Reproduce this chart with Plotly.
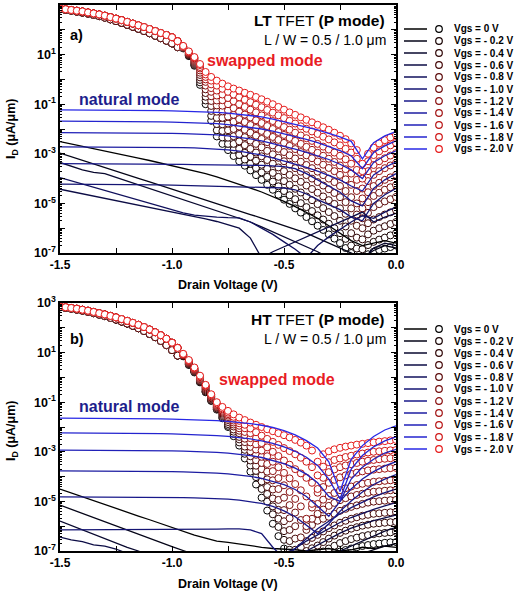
import plotly.graph_objects as go

# ---------------- data (log10 of I_D in uA/um) ----------------
# drain-voltage sweep used for the swapped-mode (marker) curves
V_M = [-1.500, -1.475, -1.450, -1.425, -1.400, -1.375, -1.350, -1.325, -1.300, -1.275,
       -1.250, -1.225, -1.200, -1.175, -1.150, -1.125, -1.100, -1.075, -1.050, -1.025,
       -1.000, -0.975, -0.950, -0.925, -0.900, -0.875, -0.850, -0.825, -0.800, -0.775,
       -0.750, -0.725, -0.700, -0.675, -0.650, -0.625, -0.600, -0.575, -0.550, -0.525,
       -0.500, -0.475, -0.450, -0.425, -0.400, -0.375, -0.350, -0.325, -0.300, -0.275,
       -0.250, -0.225, -0.200, -0.175, -0.150, -0.125, -0.100, -0.075, -0.050, -0.025, 0.000]
# drain-voltage points used for the natural-mode (line) curves
V_L = [-1.50, -1.45, -1.40, -1.35, -1.30, -1.25, -1.20, -1.15, -1.10, -1.05, -1.00,
       -0.95, -0.90, -0.85, -0.80, -0.75, -0.70, -0.65, -0.60, -0.55, -0.50,
       -0.45, -0.40, -0.35, -0.30, -0.25, -0.20, -0.15, -0.10, -0.05, 0.00]

VGS_LABELS = ["Vgs = 0 V", "Vgs = - 0.2 V", "Vgs = - 0.4 V", "Vgs = - 0.6 V",
              "Vgs = - 0.8 V", "Vgs = - 1.0 V", "Vgs = - 1.2 V", "Vgs = - 1.4 V",
              "Vgs = - 1.6 V", "Vgs = - 1.8 V", "Vgs = - 2.0 V"]

X_TICKS = [-1.5, -1.25, -1.0, -0.75, -0.5, -0.25, 0.0]
X_TICKTEXT = ["-1.5", "", "-1.0", "", "-0.5", "", "0.0"]
Y_EXP = [-7, -6, -5, -4, -3, -2, -1, 0, 1, 2, 3]

# ---- panel a (LT) swapped mode: high-current branch (V=-1.5..-0.975)
ENV_A = [2.85, 2.83, 2.80, 2.77, 2.74, 2.70, 2.66, 2.62, 2.57, 2.51, 2.45, 2.39,
         2.32, 2.25, 2.18, 2.11, 2.03, 1.95, 1.87, 1.79, 1.70, 1.54]
# same branch as seen for the low-|Vgs| curves (0 .. -0.8 V)
ENV_A_LOW = [2.83, 2.80, 2.77, 2.73, 2.69, 2.65, 2.60, 2.55, 2.49, 2.42, 2.35, 2.28,
             2.20, 2.12, 2.04, 1.95, 1.86, 1.76, 1.66, 1.56, 1.45, 1.30]
# one tail per Vgs (V=-0.95..0.00), Vgs = 0 V first
SWAP_A_TAILS = [
    [1.25, 0.94, 0.55, -0.22, -1.00, -1.67, -2.30, -2.60, -2.85, -3.09, -3.30, -3.48, -3.67, -3.86, -4.05, -4.25, -4.45, -4.65, -4.85, -5.02, -5.20, -5.37, -5.55, -5.72, -5.90, -6.07, -6.25, -6.42, -6.60, -6.80, -7.00, -7.15, -7.20, -7.05, -6.95, -6.88, -6.82, -6.76, -6.70],
    [1.26, 0.96, 0.58, -0.12, -0.85, -1.47, -2.05, -2.34, -2.60, -2.84, -3.05, -3.23, -3.40, -3.57, -3.75, -3.93, -4.12, -4.31, -4.50, -4.67, -4.83, -4.99, -5.15, -5.31, -5.48, -5.65, -5.82, -6.00, -6.20, -6.43, -6.70, -6.82, -6.85, -6.68, -6.55, -6.46, -6.38, -6.29, -6.20],
    [1.27, 0.98, 0.62, -0.02, -0.70, -1.27, -1.80, -2.08, -2.35, -2.60, -2.80, -2.96, -3.12, -3.28, -3.44, -3.60, -3.77, -3.93, -4.10, -4.25, -4.41, -4.56, -4.72, -4.87, -5.03, -5.19, -5.35, -5.51, -5.70, -5.93, -6.20, -6.38, -6.45, -6.25, -6.10, -6.00, -5.92, -5.83, -5.75],
    [1.28, 1.00, 0.66, 0.08, -0.55, -1.07, -1.55, -1.81, -2.05, -2.29, -2.50, -2.65, -2.80, -2.95, -3.10, -3.25, -3.40, -3.55, -3.70, -3.85, -3.99, -4.13, -4.28, -4.42, -4.57, -4.72, -4.87, -5.02, -5.20, -5.42, -5.70, -5.90, -6.00, -5.80, -5.65, -5.55, -5.45, -5.36, -5.27],
    [1.29, 1.02, 0.70, 0.18, -0.40, -0.87, -1.30, -1.55, -1.78, -2.00, -2.20, -2.33, -2.47, -2.60, -2.74, -2.88, -3.02, -3.16, -3.30, -3.44, -3.58, -3.72, -3.86, -4.00, -4.14, -4.28, -4.43, -4.58, -4.75, -4.95, -5.20, -5.45, -5.60, -5.38, -5.15, -5.03, -4.92, -4.83, -4.74],
    [1.30, 1.04, 0.74, 0.27, -0.25, -0.68, -1.05, -1.29, -1.50, -1.71, -1.90, -2.03, -2.15, -2.27, -2.40, -2.53, -2.66, -2.80, -2.93, -3.06, -3.19, -3.32, -3.45, -3.58, -3.72, -3.86, -4.00, -4.14, -4.30, -4.50, -4.75, -5.00, -5.20, -4.95, -4.70, -4.57, -4.45, -4.35, -4.26],
    [1.31, 1.06, 0.78, 0.36, -0.10, -0.50, -0.85, -1.06, -1.25, -1.43, -1.60, -1.72, -1.84, -1.96, -2.08, -2.20, -2.32, -2.44, -2.56, -2.68, -2.81, -2.93, -3.06, -3.18, -3.31, -3.44, -3.57, -3.70, -3.85, -4.03, -4.25, -4.50, -4.80, -4.55, -4.30, -4.17, -4.05, -3.95, -3.85],
    [1.32, 1.08, 0.82, 0.44, 0.00, -0.35, -0.65, -0.84, -1.00, -1.16, -1.30, -1.42, -1.53, -1.65, -1.76, -1.88, -2.00, -2.12, -2.24, -2.36, -2.48, -2.60, -2.72, -2.84, -2.96, -3.08, -3.20, -3.33, -3.47, -3.62, -3.80, -4.05, -4.40, -4.10, -3.85, -3.70, -3.58, -3.47, -3.37],
    [1.33, 1.10, 0.85, 0.50, 0.10, -0.20, -0.45, -0.61, -0.75, -0.88, -1.00, -1.11, -1.22, -1.33, -1.45, -1.56, -1.68, -1.80, -1.92, -2.03, -2.15, -2.26, -2.37, -2.48, -2.60, -2.71, -2.83, -2.95, -3.08, -3.22, -3.40, -3.65, -4.00, -3.70, -3.45, -3.30, -3.18, -3.07, -2.97],
    [1.34, 1.11, 0.88, 0.58, 0.20, -0.05, -0.25, -0.38, -0.50, -0.61, -0.72, -0.82, -0.92, -1.02, -1.12, -1.23, -1.34, -1.45, -1.56, -1.67, -1.78, -1.89, -1.99, -2.10, -2.20, -2.31, -2.42, -2.54, -2.66, -2.80, -2.95, -3.20, -3.70, -3.30, -3.05, -2.90, -2.78, -2.66, -2.56],
    [1.35, 1.13, 0.90, 0.62, 0.30, 0.10, -0.05, -0.17, -0.28, -0.37, -0.45, -0.54, -0.62, -0.71, -0.80, -0.90, -1.00, -1.11, -1.22, -1.33, -1.43, -1.53, -1.63, -1.73, -1.83, -1.93, -2.03, -2.15, -2.27, -2.41, -2.58, -2.85, -3.40, -3.00, -2.75, -2.58, -2.45, -2.34, -2.24],
]
# ---- panel a natural mode (lines), Vgs = 0 V first
NAT_A = [
    [-2.51, -2.60, -2.70, -2.79, -2.88, -2.98, -3.07, -3.17, -3.27, -3.37, -3.47, -3.57, -3.68, -3.80, -3.93, -4.07, -4.22, -4.38, -4.54, -4.72, -4.92, -5.13, -5.35, -5.60, -5.90, -6.20, -6.50, -6.70, -6.60, -6.50, -6.60],
    [-2.97, -3.12, -3.26, -3.41, -3.55, -3.70, -3.84, -3.99, -4.13, -4.28, -4.42, -4.57, -4.71, -4.86, -5.00, -5.15, -5.30, -5.45, -5.59, -5.75, -5.90, -6.05, -6.20, -6.40, -6.60, -6.80, -7.00, -7.20, -6.90, -6.70, -6.80],
    [-3.35, -3.50, -3.65, -3.75, -3.80, -3.95, -4.10, -4.25, -4.40, -4.55, -4.70, -4.85, -5.00, -5.15, -5.30, -5.45, -5.60, -5.75, -5.95, -6.15, -6.35, -6.55, -6.75, -6.95, -7.20, -7.30, -7.30, -7.30, -6.80, -6.60, -6.70],
    [-4.43, -4.52, -4.61, -4.70, -4.79, -4.88, -4.97, -5.06, -5.15, -5.24, -5.33, -5.42, -5.52, -5.62, -5.73, -5.85, -6.00, -6.40, -7.20, -6.95, -6.75, -6.55, -6.35, -6.15, -5.95, -5.75, -5.55, -5.35, -5.75, -5.55, -5.40],
    [-3.96, -4.09, -4.22, -4.35, -4.48, -4.61, -4.74, -4.87, -5.00, -5.13, -5.26, -5.38, -5.47, -5.52, -5.55, -5.57, -5.58, -5.75, -6.00, -6.25, -6.55, -6.85, -7.20, -6.70, -6.35, -6.05, -5.75, -5.50, -5.60, -5.35, -5.15],
    [-4.22, -4.22, -4.22, -4.23, -4.23, -4.23, -4.24, -4.24, -4.25, -4.25, -4.26, -4.27, -4.28, -4.30, -4.31, -4.32, -4.33, -4.34, -4.35, -4.36, -4.38, -4.45, -4.62, -4.85, -5.05, -5.25, -5.55, -5.70, -5.00, -4.65, -4.40],
    [-3.40, -3.40, -3.40, -3.40, -3.40, -3.41, -3.41, -3.41, -3.42, -3.42, -3.42, -3.43, -3.44, -3.44, -3.44, -3.45, -3.45, -3.46, -3.47, -3.49, -3.52, -3.60, -3.80, -4.05, -4.30, -4.55, -4.90, -5.10, -4.40, -4.05, -3.80],
    [-2.72, -2.72, -2.72, -2.72, -2.73, -2.73, -2.73, -2.73, -2.74, -2.74, -2.75, -2.75, -2.76, -2.78, -2.80, -2.84, -2.89, -2.96, -3.05, -3.16, -3.28, -3.41, -3.55, -3.70, -3.86, -4.05, -4.30, -4.50, -3.85, -3.55, -3.32],
    [-2.15, -2.15, -2.15, -2.15, -2.16, -2.16, -2.16, -2.17, -2.17, -2.18, -2.18, -2.19, -2.20, -2.22, -2.24, -2.28, -2.33, -2.40, -2.48, -2.58, -2.69, -2.81, -2.94, -3.08, -3.23, -3.42, -3.65, -4.00, -3.35, -3.08, -2.88],
    [-1.68, -1.68, -1.68, -1.69, -1.69, -1.69, -1.70, -1.70, -1.71, -1.71, -1.72, -1.73, -1.74, -1.76, -1.78, -1.82, -1.87, -1.93, -2.00, -2.09, -2.19, -2.30, -2.42, -2.55, -2.70, -2.87, -3.08, -3.60, -2.95, -2.68, -2.48],
    [-1.23, -1.23, -1.23, -1.24, -1.24, -1.24, -1.25, -1.25, -1.26, -1.26, -1.27, -1.28, -1.29, -1.31, -1.33, -1.36, -1.40, -1.45, -1.51, -1.60, -1.70, -1.80, -1.92, -2.04, -2.17, -2.32, -2.50, -3.20, -2.55, -2.28, -2.10],
]

# ---- panel b (HT) swapped mode
ENV_B = [2.85, 2.83, 2.80, 2.77, 2.73, 2.69, 2.64, 2.59, 2.54, 2.48, 2.42, 2.35,
         2.28, 2.20, 2.12, 2.03, 1.93, 1.82, 1.70, 1.56, 1.40, 1.19]
ENV_B_LOW = [2.83, 2.80, 2.77, 2.73, 2.69, 2.64, 2.59, 2.53, 2.47, 2.40, 2.33, 2.25,
             2.17, 2.08, 1.98, 1.87, 1.75, 1.62, 1.47, 1.30, 1.10, 0.88]
SWAP_B_TAILS = [
    [0.85, 0.50, 0.20, -0.20, -0.60, -0.95, -1.30, -1.65, -2.00, -2.37, -2.75, -3.27, -3.80, -4.32, -4.85, -5.37, -5.90, -6.40, -6.90, -7.20, -7.40, -7.40, -7.40, -7.35, -7.30, -7.22, -7.15, -7.08, -7.02, -6.96, -6.90, -6.85, -6.80, -6.76, -6.72, -6.70, -6.67, -6.65, -6.64],
    [0.86, 0.52, 0.22, -0.18, -0.58, -0.93, -1.28, -1.61, -1.95, -2.28, -2.62, -3.08, -3.55, -4.02, -4.50, -5.01, -5.52, -6.03, -6.55, -6.95, -7.30, -7.40, -7.35, -7.25, -7.15, -7.02, -6.90, -6.79, -6.68, -6.60, -6.52, -6.46, -6.40, -6.36, -6.32, -6.29, -6.27, -6.25, -6.23],
    [0.87, 0.54, 0.24, -0.16, -0.56, -0.90, -1.25, -1.56, -1.88, -2.19, -2.50, -2.92, -3.35, -3.77, -4.20, -4.70, -5.20, -5.70, -6.20, -6.60, -6.95, -7.20, -7.00, -6.89, -6.78, -6.64, -6.50, -6.38, -6.27, -6.18, -6.10, -6.04, -5.98, -5.94, -5.90, -5.88, -5.86, -5.84, -5.83],
    [0.88, 0.56, 0.26, -0.13, -0.52, -0.87, -1.22, -1.51, -1.80, -2.10, -2.40, -2.79, -3.18, -3.56, -3.95, -4.42, -4.88, -5.34, -5.80, -6.15, -6.50, -6.85, -6.60, -6.47, -6.35, -6.21, -6.08, -5.97, -5.86, -5.78, -5.70, -5.64, -5.58, -5.54, -5.50, -5.48, -5.46, -5.44, -5.43],
    [0.89, 0.58, 0.28, -0.10, -0.48, -0.84, -1.20, -1.46, -1.72, -1.98, -2.25, -2.61, -2.98, -3.34, -3.70, -4.11, -4.52, -4.94, -5.35, -5.68, -6.00, -6.45, -6.15, -5.95, -5.78, -5.70, -5.62, -5.50, -5.38, -5.30, -5.22, -5.16, -5.10, -5.05, -5.01, -4.99, -4.97, -4.95, -4.94],
    [0.90, 0.60, 0.30, -0.07, -0.44, -0.81, -1.18, -1.42, -1.66, -1.90, -2.15, -2.47, -2.80, -3.12, -3.45, -3.80, -4.15, -4.50, -4.85, -5.15, -5.45, -5.75, -6.00, -5.70, -5.50, -5.33, -5.18, -5.06, -4.95, -4.87, -4.80, -4.74, -4.69, -4.65, -4.61, -4.59, -4.57, -4.55, -4.54],
    [0.91, 0.62, 0.32, -0.05, -0.40, -0.78, -1.15, -1.38, -1.60, -1.82, -2.05, -2.33, -2.62, -2.91, -3.20, -3.49, -3.78, -4.06, -4.35, -4.62, -4.90, -5.20, -5.70, -5.25, -5.10, -4.93, -4.78, -4.66, -4.55, -4.47, -4.40, -4.34, -4.29, -4.25, -4.21, -4.19, -4.17, -4.15, -4.14],
    [0.92, 0.64, 0.34, -0.02, -0.37, -0.76, -1.12, -1.34, -1.54, -1.74, -1.95, -2.20, -2.45, -2.70, -2.95, -3.18, -3.40, -3.62, -3.85, -4.07, -4.30, -4.55, -4.80, -5.10, -4.65, -4.42, -4.25, -4.13, -4.03, -3.95, -3.89, -3.84, -3.79, -3.75, -3.72, -3.70, -3.68, -3.66, -3.65],
    [0.93, 0.66, 0.36, 0.01, -0.34, -0.72, -1.08, -1.29, -1.48, -1.66, -1.85, -2.05, -2.25, -2.45, -2.65, -2.82, -3.00, -3.17, -3.35, -3.52, -3.70, -3.87, -4.05, -4.25, -4.50, -4.05, -3.82, -3.71, -3.62, -3.55, -3.50, -3.45, -3.40, -3.36, -3.33, -3.30, -3.28, -3.26, -3.25],
    [0.94, 0.68, 0.38, 0.04, -0.32, -0.70, -1.05, -1.25, -1.42, -1.59, -1.75, -1.91, -2.06, -2.21, -2.35, -2.48, -2.60, -2.72, -2.85, -2.97, -3.10, -3.24, -3.40, -3.62, -3.95, -3.60, -3.42, -3.33, -3.27, -3.21, -3.16, -3.11, -3.07, -3.03, -3.00, -2.98, -2.96, -2.94, -2.93],
    [0.95, 0.70, 0.40, 0.07, -0.30, -0.68, -1.00, -1.19, -1.35, -1.49, -1.62, -1.72, -1.82, -1.91, -2.00, -2.09, -2.17, -2.25, -2.33, -2.42, -2.52, -2.63, -2.75, -2.95, -3.40, -3.10, -2.98, -2.90, -2.84, -2.79, -2.75, -2.71, -2.68, -2.65, -2.62, -2.59, -2.57, -2.54, -2.52],
]
# ---- panel b natural mode
NAT_B = [
    [-4.50, -4.66, -4.81, -4.97, -5.12, -5.28, -5.43, -5.59, -5.74, -5.90, -6.05, -6.20, -6.36, -6.48, -6.60, -6.65, -6.72, -6.80, -6.85, -6.90, -6.92, -6.95, -7.00, -6.95, -6.90, -7.00, -6.95, -6.85, -6.90, -6.80, -6.85],
    [-5.15, -5.32, -5.48, -5.65, -5.82, -5.98, -6.15, -6.32, -6.48, -6.65, -6.82, -6.98, -7.15, -7.20, -7.20, -7.20, -7.20, -7.20, -7.20, -7.20, -7.20, -7.20, -7.20, -7.20, -7.20, -7.20, -7.20, -7.10, -6.95, -6.80, -6.70],
    [-5.79, -5.97, -6.15, -6.33, -6.50, -6.68, -6.85, -7.00, -7.20, -7.20, -7.20, -7.20, -7.20, -7.20, -7.20, -7.20, -7.20, -7.20, -7.20, -7.20, -7.20, -7.20, -7.20, -7.20, -7.20, -7.00, -6.80, -6.60, -6.40, -6.20, -6.05],
    [-6.44, -6.55, -6.62, -6.75, -6.80, -6.92, -7.10, -7.20, -7.20, -7.20, -7.20, -7.20, -7.20, -7.20, -7.20, -7.20, -7.20, -7.20, -7.20, -7.20, -7.20, -7.20, -7.00, -6.75, -6.50, -6.28, -6.08, -5.92, -5.78, -5.66, -5.55],
    [-7.20, -7.20, -7.20, -7.20, -7.20, -7.20, -7.20, -7.20, -7.20, -7.20, -7.20, -7.20, -7.20, -7.20, -7.20, -7.20, -7.20, -7.20, -7.20, -7.20, -7.10, -6.90, -6.60, -6.35, -6.10, -5.85, -5.65, -5.48, -5.32, -5.18, -5.05],
    [-6.15, -6.15, -6.14, -6.14, -6.14, -6.14, -6.13, -6.13, -6.13, -6.13, -6.12, -6.12, -6.12, -6.12, -6.12, -6.11, -6.11, -6.15, -6.30, -6.85, -7.30, -6.90, -6.50, -6.10, -5.80, -5.50, -5.25, -5.02, -4.82, -4.65, -4.50],
    [-4.82, -4.82, -4.82, -4.82, -4.82, -4.83, -4.83, -4.83, -4.84, -4.84, -4.85, -4.85, -4.86, -4.87, -4.89, -4.91, -4.95, -5.00, -5.08, -5.20, -5.38, -5.62, -5.95, -6.30, -5.90, -5.40, -4.98, -4.62, -4.32, -4.10, -3.92],
    [-3.77, -3.77, -3.77, -3.77, -3.78, -3.78, -3.78, -3.79, -3.79, -3.80, -3.80, -3.81, -3.82, -3.84, -3.86, -3.89, -3.93, -3.99, -4.07, -4.18, -4.32, -4.52, -4.80, -5.20, -5.60, -5.00, -4.50, -4.10, -3.80, -3.57, -3.40],
    [-2.93, -2.93, -2.93, -2.93, -2.94, -2.94, -2.94, -2.95, -2.95, -2.96, -2.96, -2.97, -2.98, -3.00, -3.02, -3.05, -3.09, -3.15, -3.23, -3.34, -3.48, -3.66, -3.90, -4.25, -4.80, -5.00, -4.10, -3.62, -3.30, -3.05, -2.90],
    [-2.24, -2.24, -2.24, -2.25, -2.25, -2.25, -2.26, -2.26, -2.27, -2.27, -2.28, -2.29, -2.30, -2.32, -2.35, -2.38, -2.42, -2.48, -2.56, -2.66, -2.80, -2.98, -3.22, -3.55, -4.10, -4.90, -3.70, -3.15, -2.80, -2.56, -2.40],
    [-1.64, -1.64, -1.64, -1.65, -1.65, -1.65, -1.66, -1.66, -1.67, -1.67, -1.68, -1.69, -1.70, -1.72, -1.74, -1.77, -1.81, -1.86, -1.93, -2.02, -2.15, -2.32, -2.55, -2.85, -3.40, -4.60, -3.30, -2.75, -2.38, -2.12, -1.95],
]

for arr in NAT_A + NAT_B:
    assert len(arr) == len(V_L), len(arr)
for t in SWAP_A_TAILS + SWAP_B_TAILS:
    assert len(ENV_A) + len(t) == len(V_M), len(t)
assert len(ENV_A_LOW) == len(ENV_A) and len(ENV_B_LOW) == len(ENV_B)

# ---------------- layout geometry ----------------
W, H = 518, 595
ML, MR, MT, MB = 60, 122, 5, 44
PW = W - ML - MR
PH = H - MT - MB
FONT = "Liberation Sans, Arial, sans-serif"


def px_x(px):
    return (px - ML) / PW


def px_y(py):
    return (H - MB - py) / PH


def line_col(k):
    return "rgb(%d,%d,%d)" % (round(4 * k), round(4 * k), round(23 * k))


def mk_col(k):
    return "rgb(%d,%d,%d)" % (round(23 * k), round(2.5 * k), round(2.5 * k))


fig = go.Figure()

panels = [("x", "y", ENV_A, ENV_A_LOW, SWAP_A_TAILS, NAT_A),
          ("x2", "y2", ENV_B, ENV_B_LOW, SWAP_B_TAILS, NAT_B)]
for xa, ya, env, env_low, tails, nat in panels:
    for k in range(11):
        head = env_low if k <= 4 else env
        y = [10 ** v for v in head + tails[k]]
        fig.add_trace(go.Scatter(x=V_M, y=y, mode="markers", xaxis=xa, yaxis=ya,
                                 marker=dict(symbol="circle", size=7, color="white",
                                             line=dict(color=mk_col(k), width=1.0)),
                                 showlegend=False, hoverinfo="skip"))
    for k in range(11):
        y = [10 ** v for v in nat[k]]
        fig.add_trace(go.Scatter(x=V_L, y=y, mode="lines", xaxis=xa, yaxis=ya,
                                 line=dict(color=line_col(k), width=1.3),
                                 showlegend=False, hoverinfo="skip"))

x_common = dict(range=[-1.5, 0], tickmode="array", tickvals=X_TICKS,
                ticktext=["<b>%s</b>" % t if t else "" for t in X_TICKTEXT],
                ticks="inside", ticklen=5, tickwidth=1, tickcolor="black",
                showline=True, linewidth=1.5, linecolor="black", mirror="ticks",
                showgrid=False, zeroline=False, automargin=False,
                tickfont=dict(family=FONT, size=12, color="black"))
minor_vals = [m * 10.0 ** e for e in range(-7, 3) for m in range(2, 10)]
y_common = dict(type="log", range=[-7, 3], tickmode="array",
                tickvals=[10.0 ** e for e in Y_EXP],
                ticktext=["<b>10<sup>%d</sup></b>" % e if e % 2 else "" for e in Y_EXP],
                ticks="inside", ticklen=5, tickwidth=1, tickcolor="black",
                minor=dict(tickmode="array", tickvals=minor_vals, ticks="inside",
                           ticklen=2.5, tickcolor="black"),
                showline=True, linewidth=1.5, linecolor="black", mirror="ticks",
                showgrid=False, zeroline=False, automargin=False,
                tickfont=dict(family=FONT, size=12.5, color="black"))

fig.update_layout(
    width=W, height=H, autosize=False,
    margin=dict(l=ML, r=MR, t=MT, b=MB, autoexpand=False),
    paper_bgcolor="white", plot_bgcolor="white",
    xaxis=dict(domain=[0, 1], anchor="y", **x_common),
    yaxis=dict(domain=[px_y(253), 1], anchor="x", **y_common),
    xaxis2=dict(domain=[0, 1], anchor="y2", **x_common),
    yaxis2=dict(domain=[0, px_y(303)], anchor="x2", **y_common),
)

ann = []
shapes = []


def text(px, py, s, size, anchor="left", color="black"):
    ann.append(dict(x=px_x(px), y=px_y(py), xref="paper", yref="paper", text=s,
                    showarrow=False, xanchor=anchor, yanchor="middle",
                    font=dict(family=FONT, size=size, color=color)))


RED = "rgb(232,28,36)"
NAVY = "rgb(30,30,140)"
panel_text = [
    (0, "a)", "<b>LT</b> TFET <b>(P mode)</b>", 205, 61, 99),
    (300, "b)", "<b>HT</b> TFET <b>(P mode)</b>", 217, 79, 106),
]
for off, lab, title, sw_x, sw_dy, nat_dy in panel_text:
    text(68, off + 35 + (4 if off else 0), "<b>%s</b>" % lab, 14.5)
    text(387, off + 20 - (1 if off else 0), title, 15.5, anchor="right")
    text(388, off + 40 - (1 if off else 0), "L / W = 0.5 / 1.0 μm", 14, anchor="right")
    text(sw_x, off + sw_dy, "<b>swapped mode</b>", 16, color=RED)
    text(77, off + nat_dy, "<b>natural mode</b>", 16, color=NAVY)
    # axis titles
    text(228, off + 285 - (1 if off else 0), "<b>Drain Voltage (V)</b>", 12.5, anchor="center")
    ann.append(dict(x=px_x(12), y=px_y(off + 129 + (2 if off else 0)), xref="paper", yref="paper",
                    text="<b>I<sub>D</sub> (μA/μm)</b>", textangle=-90, showarrow=False,
                    xanchor="center", yanchor="middle",
                    font=dict(family=FONT, size=12.5, color="black")))
    # legend
    for j in range(11):
        py = off + 29 + 12 * j
        shapes.append(dict(type="line", xref="paper", yref="paper",
                           x0=px_x(404), x1=px_x(427), y0=px_y(py), y1=px_y(py),
                           line=dict(color=line_col(j), width=1.5)))
        shapes.append(dict(type="circle", xref="paper", yref="paper",
                           xsizemode="pixel", ysizemode="pixel",
                           xanchor=px_x(439), yanchor=px_y(py),
                           x0=-3.3, x1=3.3, y0=-3.3, y1=3.3,
                           line=dict(color=mk_col(j), width=1.2), fillcolor="white"))
        text(452, py, "<b>%s</b>" % VGS_LABELS[j], 10)

fig.update_layout(annotations=ann, shapes=shapes)
fig.write_html("out.html")
